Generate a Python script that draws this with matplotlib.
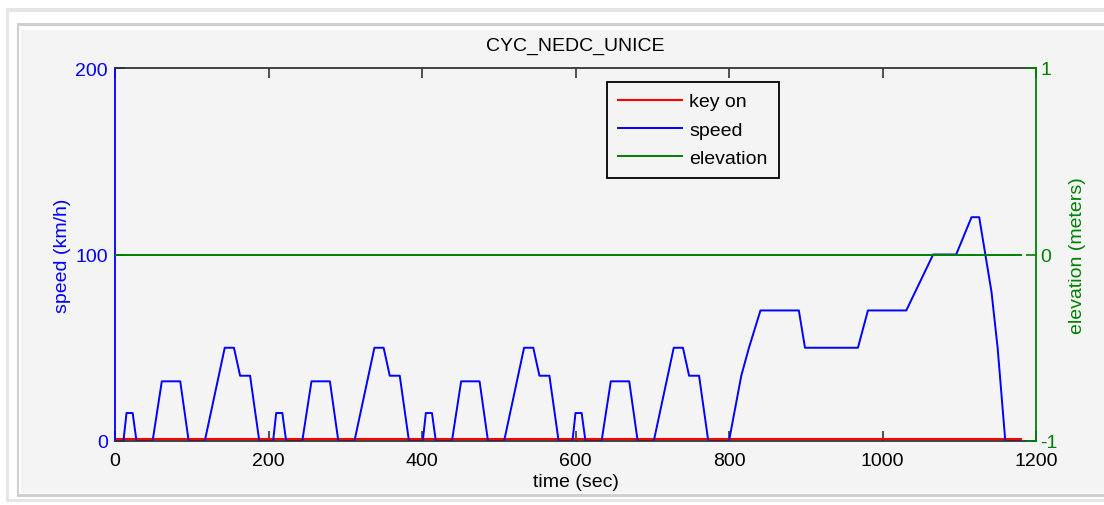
import matplotlib
matplotlib.use("Agg")
import matplotlib.pyplot as plt
from matplotlib.patches import Rectangle

plt.rcParams['font.family'] = ['Liberation Sans', 'DejaVu Sans']
plt.rcParams['axes.unicode_minus'] = False

# ---- data ----
speed_time = [0, 11, 15, 23, 28, 49, 61, 85, 96, 117, 143, 155, 163, 176, 188,
              206, 210, 218, 223, 244, 256, 280, 291, 312, 338, 350, 358, 371, 383,
              401, 405, 413, 418, 439, 451, 475, 486, 507, 533, 545, 553, 566, 578,
              596, 600, 608, 613, 634, 646, 670, 681, 702, 728, 740, 748, 761, 773,
              800, 816, 826, 841, 891, 899, 968, 981, 1031, 1066, 1096, 1116, 1126,
              1142, 1150, 1160, 1180]
speed_kmh = [0, 0, 15, 15, 0, 0, 32, 32, 0, 0, 50, 50, 35, 35, 0,
             0, 15, 15, 0, 0, 32, 32, 0, 0, 50, 50, 35, 35, 0,
             0, 15, 15, 0, 0, 32, 32, 0, 0, 50, 50, 35, 35, 0,
             0, 15, 15, 0, 0, 32, 32, 0, 0, 50, 50, 35, 35, 0,
             0, 35, 50, 70, 70, 50, 50, 70, 70, 100, 100, 120, 120,
             80, 50, 0, 0]
key_time = [0, 1180]
key_on = [1, 1]
elev_time = [0, 1180]
elevation_m = [0, 0]

x_ticks = [0, 200, 400, 600, 800, 1000, 1200]
speed_ticks = [0, 100, 200]
elev_ticks = [-1, 0, 1]

BLUE = '#0000ff'
GREEN = '#008000'
RED = '#ff0000'
PANEL = '#f4f4f4'
FS = 14

W, H = 1104, 506
fig = plt.figure(figsize=(W / 100, H / 100), dpi=100, facecolor='white')


def frect(x0, y0, x1, y1, color):
    fig.add_artist(Rectangle((x0 / W, 1 - y1 / H), (x1 - x0) / W, (y1 - y0) / H,
                             transform=fig.transFigure, facecolor=color,
                             edgecolor='none', zorder=-10))


frect(6, 9, 1104, 503, '#e6e6e6')
frect(9, 13, 1104, 500, '#ffffff')
frect(17, 24, 1104, 498, '#cfcfcf')
frect(19, 27, 1104, 495, '#fdfdfd')
frect(21, 31, 1104, 494, PANEL)

ax1 = fig.add_axes([115 / W, 1 - 442 / H, (1036 - 115) / W, (442 - 69) / H])
ax1.set_facecolor(PANEL)
ax2 = ax1.twinx()

l_key, = ax1.plot(key_time, key_on, color=RED, lw=1.5, label='key on')
l_speed, = ax1.plot(speed_time, speed_kmh, color=BLUE, lw=1.4, label='speed')
l_elev, = ax2.plot(elev_time, elevation_m, color=GREEN, lw=1.4, label='elevation')

ax1.set_xlim(0, 1200)
ax1.set_ylim(0, 200)
ax2.set_ylim(-1, 1)

ax1.set_xticks(x_ticks)
ax1.set_yticks(speed_ticks)
ax2.set_yticks(elev_ticks)

ax1.tick_params(axis='x', direction='in', length=7, width=1.2, color='#333333',
                top=True, labelsize=FS, pad=8, labelcolor='black')
ax1.tick_params(axis='y', direction='in', length=7, width=1.2, colors=BLUE,
                labelsize=FS, pad=5)
ax2.tick_params(axis='y', direction='in', length=7, width=1.2, colors=GREEN,
                labelsize=FS, pad=3)

for s in ('top', 'bottom'):
    ax1.spines[s].set_color('#333333')
    ax1.spines[s].set_linewidth(1.3)
ax1.spines['left'].set_color(BLUE)
ax1.spines['left'].set_linewidth(1.3)
ax1.spines['right'].set_visible(False)
for s in ('top', 'bottom', 'left'):
    ax2.spines[s].set_visible(False)
ax2.spines['right'].set_color(GREEN)
ax2.spines['right'].set_linewidth(1.3)

ax1.set_xlabel('time (sec)', fontsize=FS, labelpad=3)
ax1.set_ylabel('speed (km/h)', fontsize=FS, color=BLUE, labelpad=3)
ax2.set_ylabel('elevation (meters)', fontsize=FS, color=GREEN, labelpad=8)
ax1.set_title('CYC_NEDC_UNICE', fontsize=FS, pad=13)

leg = ax2.legend(handles=[l_key, l_speed, l_elev], loc='upper left',
                 bbox_to_anchor=(0.534, 0.962), borderaxespad=0,
                 fancybox=False, framealpha=1, facecolor=PANEL,
                 edgecolor='black', fontsize=FS, handlelength=3.3,
                 handletextpad=0.4, labelspacing=0.55, borderpad=0.55)
leg.get_frame().set_linewidth(1.3)

fig.savefig('out.png', dpi=100, facecolor='white')
